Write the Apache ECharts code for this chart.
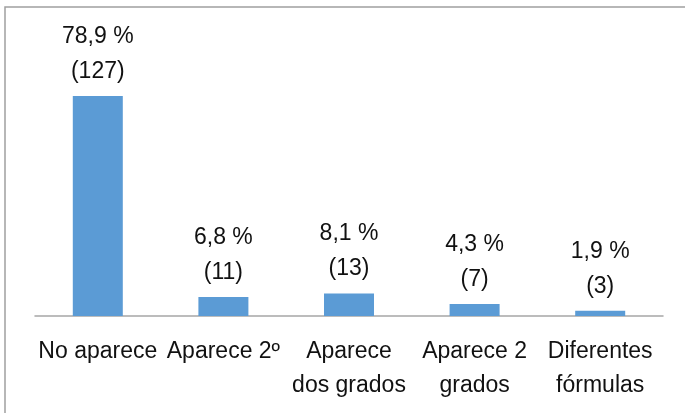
<!DOCTYPE html>
<html>
<head>
<meta charset="utf-8">
<script src="https://cdn.jsdelivr.net/npm/echarts@6/dist/echarts.min.js"></script>
<style>
    html, body {margin: 0; padding: 0; background: #fff;}
    #chart {width: 685px; height: 413px;}
</style>
</head>
<body>
<div id="chart"></div>
<script>
const categories = ["No aparece", "Aparece 2º", "Aparece\ndos grados", "Aparece 2\ngrados", "Diferentes\nfórmulas"];
const percents = [78.9, 6.8, 8.1, 4.3, 1.9];
const counts = [127, 11, 13, 7, 3];

const myChart = echarts.init(document.getElementById("chart"));

const option = {
    animation: false,
    textStyle: {fontFamily: "Liberation Sans"},
    graphic: [{
        type: "rect",
        shape: {x: 5, y: 7, width: 720, height: 440},
        style: {fill: "none", stroke: "#a0a0a0", lineWidth: 1.5},
        silent: true
    }],
    grid: {left: 35, right: 22, top: 65, bottom: 97},
    xAxis: {
        type: "category",
        data: categories,
        axisLine: {lineStyle: {color: "#a6a6a6", width: 1.5}},
        axisTick: {show: false},
        axisLabel: {
            interval: 0,
            color: "#111",
            fontSize: 23,
            lineHeight: 34,
            margin: 19
        }
    },
    yAxis: {
        type: "value",
        min: 0,
        max: 90,
        show: false
    },
    series: [{
        type: "bar",
        data: percents,
        barWidth: 50,
        itemStyle: {color: "#5b9bd5"},
        label: {
            show: true,
            position: "top",
            distance: 7,
            color: "#111",
            fontSize: 23,
            lineHeight: 35,
            formatter: p => percents[p.dataIndex].toFixed(1).replace(".", ",") + " %\n(" + counts[p.dataIndex] + ")"
        }
    }]
};

myChart.setOption(option);
</script>
</body>
</html>
